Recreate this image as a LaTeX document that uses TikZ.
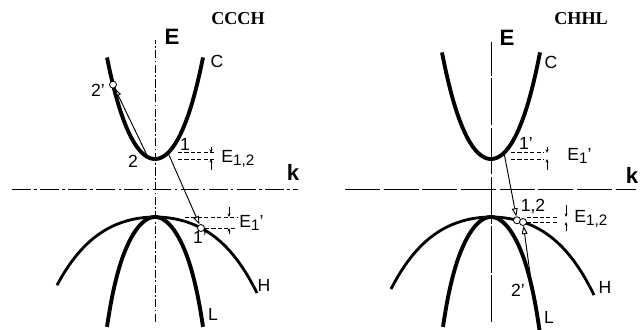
\documentclass[tikz,border=0pt]{standalone}
\usepackage{fontspec}
\setmainfont{Liberation Sans}
\newfontfamily\titlefont{Liberation Serif}
\usetikzlibrary{arrows.meta,calc}

\tikzset{
  declare function={
    cb(\d)=0.036*\d*\d+3.5*(\d*\d/1000)^2;
    hb(\d)=0.00466*\d*\d+0.255*(\d*\d/1000)^2;
    lb(\d)=0.036*\d*\d+2.2*(\d*\d/1000)^3;
  },
  band/.style={line width=3.3pt},
  hband/.style={line width=2.4pt},
  axis/.style={line width=0.7pt},
  level/.style={line width=0.6pt, dash pattern=on 3.5pt off 2pt},
  trans/.style={line width=0.8pt, -{Triangle[open,length=7pt,width=5pt]}},
  gap/.style={line width=0.6pt, -{Stealth[length=3pt,width=2.5pt]}},
  state/.style={circle, draw, fill=white, line width=0.7pt, inner sep=0pt, minimum size=6pt},
  lbl/.style={font=\fontsize{15}{15}\selectfont, inner sep=1pt},
  axlbl/.style={font=\fontsize{19}{19}\selectfont\bfseries},
  title/.style={font=\fontsize{15.5}{15.5}\selectfont\titlefont\bfseries}
}
\newcommand{\sublbl}[1]{\raisebox{-0.4ex}{\fontsize{13}{13}\selectfont #1}}

\begin{document}
\begin{tikzpicture}[x=0.03cm, y=-0.03cm]

\useasboundingbox (0,0) rectangle (643,329);

% ---------- left panel: CCCH ----------
\begin{scope}[shift={(155,0)}]

% axes
\draw[axis, dash pattern=on 7pt off 2pt on 1.5pt off 2pt] (0,322) -- (0,40);
\draw[axis, dash pattern=on 16pt off 3pt on 2pt off 3pt] (-143,189) -- (143,189);
\node[axlbl] (eL) at (17,37) {E};
\node[axlbl] (kL) at (138,172) {k};
\node[title] (ttlL) at (83,19) {CCCH};

% bands
\draw[band] plot[domain=-48:48, samples=61, smooth] (\x,{159-cb(\x)});
\draw[hband] plot[domain=-98:102, samples=61, smooth] (\x,{217+hb(\x)});
\draw[band] plot[domain=-48:48, samples=61, smooth] (\x,{217+lb(\x)});
\node[lbl] (cL) at (62,61) {C};
\node[lbl] (hL) at (109,285) {H};
\node[lbl] (lL) at (58,314) {L};

% states
\coordinate (p1) at (13,{159-cb(13)});
\coordinate (p2) at (-7,{159-cb(7)});
\node[state] (p2s) at (-42,{159-cb(42)}) {};
\node[state] (p1s) at (46,{217+hb(46)}) {};
\node[lbl] (lp1) at (30,144) {1};
\node[lbl] (lp2) at (-22,161) {2};
\node[lbl] (lp2s) at (-57,90) {2'};
\node[lbl] (lp1s) at (45,237) {1'};

% transitions
\draw[trans] (p2) -- (p2s);
\draw[trans] (p1) -- (p1s);

% energy E_{1,2}
\coordinate (a1) at (23,{159-cb(13)});
\coordinate (a2) at (60,{159-cb(13)});
\coordinate (a3) at (23,159);
\coordinate (a4) at (60,159);
\draw[level] (a1) -- (a2);
\draw[level] (a3) -- (a4);
\coordinate (a5) at (56,147);
\coordinate (a6) at (56,{159-cb(13)});
\coordinate (a7) at (56,170);
\coordinate (a8) at (56,159);
\draw[gap] (a5) -- (a6);
\draw[gap] (a7) -- (a8);
\node[lbl, anchor=west] (eL12) at (65,159) {E\sublbl{1,2}};

% energy E_1'
\coordinate (b1) at (30,217);
\coordinate (b2) at (82,217);
\coordinate (b3) at (50,{217+hb(46)});
\coordinate (b4) at (82,{217+hb(46)});
\draw[level] (b1) -- (b2);
\draw[level] (b3) -- (b4);
\coordinate (b5) at (74,207);
\coordinate (b6) at (74,217);
\coordinate (b7) at (74,234);
\coordinate (b8) at (74,{217+hb(46)});
\draw[gap] (b5) -- (b6);
\draw[gap] (b7) -- (b8);
\node[lbl, anchor=west] (eL1) at (83,223) {E\sublbl{1}'};

\end{scope}

% ---------- right panel: CHHL ----------
\begin{scope}[shift={(491,0)}]

% axes
\draw[axis, dash pattern=on 40pt off 2pt] (0,322) -- (0,42);
\draw[axis, dash pattern=on 30pt off 3pt] (-146,189) -- (145,189);
\node[axlbl] (eR) at (16,38) {E};
\node[axlbl] (kR) at (141,175) {k};
\node[title] (ttlR) at (90,19) {CHHL};

% bands
\draw[band] plot[domain=-49:49, samples=61, smooth] (\x,{159-cb(\x)});
\draw[hband] plot[domain=-100:103, samples=61, smooth] (\x,{217+hb(\x)});
\draw[band] plot[domain=-48:49, samples=61, smooth] (\x,{217+lb(\x)});
\node[lbl] (cR) at (60,62) {C};
\node[lbl] (hR) at (114,287) {H};
\node[lbl] (lR) at (58,317) {L};

% states
\coordinate (q1s) at (13,{159-cb(13)});
\coordinate (q2s) at (41,{217+lb(41)});
\node[state] (q1) at (26,{217+hb(26)}) {};
\node[state] (q2) at (32,{217+hb(32)}) {};
\fill (q2s) circle (1.6pt);
\node[lbl] (lq1s) at (35,143) {1'};
\node[lbl] (lq12) at (42,206) {1,2};
\node[lbl] (lq2s) at (27,290) {2'};

% transitions
\draw[trans] (q1s) -- (q1);
\draw[trans] (q2s) -- (q2);

% energy E_1'
\coordinate (c1) at (20,{159-cb(13)});
\coordinate (c2) at (53,{159-cb(13)});
\coordinate (c3) at (20,159);
\coordinate (c4) at (53,159);
\draw[level] (c1) -- (c2);
\draw[level] (c3) -- (c4);
\coordinate (c5) at (56,147);
\coordinate (c6) at (56,{159-cb(13)});
\coordinate (c7) at (56,170);
\coordinate (c8) at (56,159);
\draw[gap] (c5) -- (c6);
\draw[gap] (c7) -- (c8);
\node[lbl, anchor=west] (eR1) at (75,156) {E\sublbl{1}'};

% energy E_{1,2}
\coordinate (d1) at (36,217);
\coordinate (d2) at (67,217);
\coordinate (d3) at (36,{217+hb(32)});
\coordinate (d4) at (67,{217+hb(32)});
\draw[level] (d1) -- (d2);
\draw[level] (d3) -- (d4);
\coordinate (d5) at (75,205);
\coordinate (d6) at (75,217);
\coordinate (d7) at (75,231);
\coordinate (d8) at (75,{217+hb(32)});
\draw[gap] (d5) -- (d6);
\draw[gap] (d7) -- (d8);
\node[lbl, anchor=west] (eR12) at (82,219) {E\sublbl{1,2}};

\end{scope}

\end{tikzpicture}
\end{document}
